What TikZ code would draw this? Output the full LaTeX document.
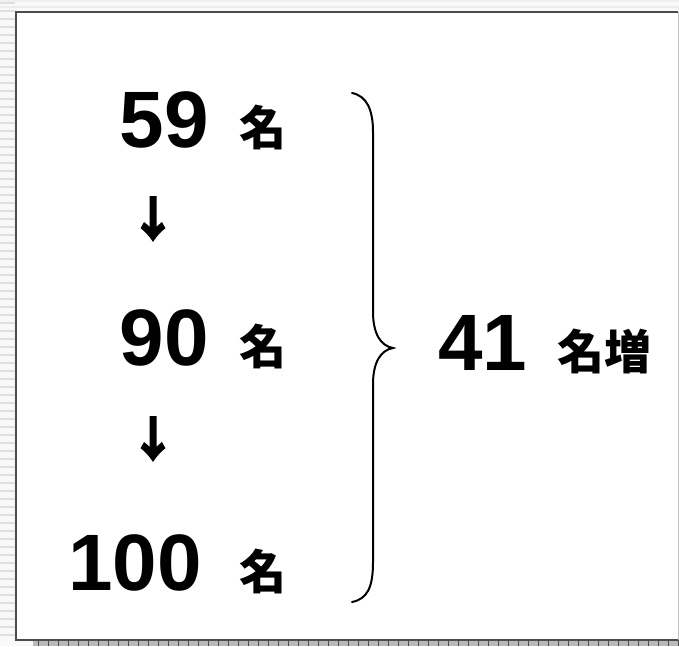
\documentclass[tikz,border=0pt]{standalone}
\usepackage{fontspec}
\setmainfont{Liberation Sans}
\newfontfamily\jpfont{Noto Sans CJK JP}
\newfontfamily\jparrowfont[FakeBold=5]{Noto Sans CJK JP Bold}
\begin{document}
\begin{tikzpicture}[x=1pt, y=-1pt,
    num/.style={font=\fontsize{80}{80}\selectfont\bfseries, inner sep=0pt},
    mei/.style={font=\jpfont\bfseries\fontsize{47}{47}\selectfont, inner sep=0pt},
    downarrow/.style={font=\jparrowfont\fontsize{46}{46}\selectfont, inner sep=0pt},
    brace/.style={line width=2pt, line cap=round}]
    \useasboundingbox (0,0) rectangle (679,646);

    % slide frame
    \fill[gray!5] (0,0) rectangle (679,646);
    \foreach \y in {3,11,...,640}
      \draw[gray!25, line width=1.5pt] (0,\y) -- (15,\y);
    \draw[gray!12, line width=1.5pt] (0,1) -- (679,1);
    \draw[gray!15, line width=1.5pt] (0,7) -- (679,7);
    \fill[gray!55] (33,640) rectangle (679,646);
    \foreach \x in {38,48,...,679}
      \draw[black!70, line width=0.7pt] (\x,640) -- (\x,646);
    \fill[white] (16,12) rectangle (678,640);
    \draw[gray!50, line width=1pt] (678,12) -- (678,640);
    \draw[black!70, line width=1.6pt] (678,12) -- (16,12) -- (16,640) -- (678,640);

    % numbers
    \node[num, anchor=base east] (n59) at (209,147) {59};
    \node[mei, anchor=base west] (m59) at (239,145) {名};
    \node[downarrow, anchor=base] (a1) at (153,236) {↓};
    \node[num, anchor=base east] (n90) at (209,365) {90};
    \node[mei, anchor=base west] (m90) at (239,364) {名};
    \node[downarrow, anchor=base] (a2) at (153,456) {↓};
    \node[num, anchor=base east] (n100) at (202,590) {100};
    \node[mei, anchor=base west] (m100) at (239,589) {名};

    % brace
    \draw[brace] (352,93) .. controls (367,96) and (373,110) .. (373,132)
      -- (373,312) .. controls (373,334) and (381,346) .. (393,348)
      .. controls (381,350) and (373,362) .. (373,384)
      -- (373,562) .. controls (373,588) and (367,599) .. (352,602);

    \node[num, anchor=base west] (n41) at (438,370) {41};
    \node[mei, anchor=base west] (m41) at (557,369) {名増};
  \end{tikzpicture}
\end{document}
